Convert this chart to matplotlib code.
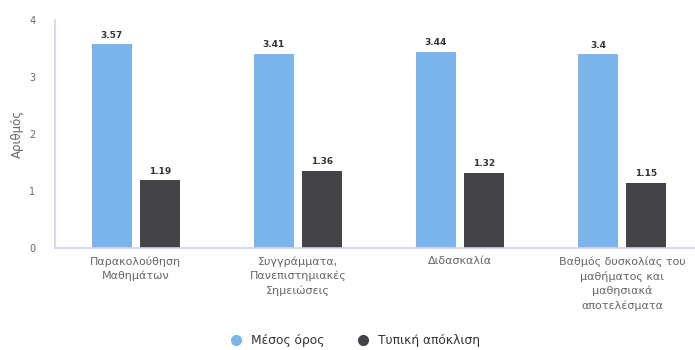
import numpy as np
import matplotlib
matplotlib.use("Agg")
import matplotlib.pyplot as plt
from matplotlib.lines import Line2D

# δεδομένα
categories = [
    "Παρακολούθηση\nΜαθημάτων",
    "Συγγράμματα,\nΠανεπιστημιακές\nΣημειώσεις",
    "Διδασκαλία",
    "Βαθμός δυσκολίας του\nμαθήματος και\nμαθησιακά\nαποτελέσματα",
]
mean_vals = [3.57, 3.41, 3.44, 3.4]
std_vals = [1.19, 1.36, 1.32, 1.15]
series_names = ["Μέσος όρος", "Τυπική απόκλιση"]
yticks = [0, 1, 2, 3, 4]

blue = "#7cb5ec"
dark = "#434348"
txt = "#666666"
axis_col = "#ccd6eb"

plt.rcParams['font.family'] = ['DejaVu Sans']

fig = plt.figure(figsize=(6.95, 3.5), dpi=100)
ax = fig.add_axes([0.079, 0.291, 0.921, 0.652])

x = np.arange(len(categories))
w = 0.247
off = 0.148
b1 = ax.bar(x - off, mean_vals, w, color=blue)
b2 = ax.bar(x + off, std_vals, w, color=dark)

for bars, vals in ((b1, mean_vals), (b2, std_vals)):
    for b, v in zip(bars, vals):
        ax.text(b.get_x() + b.get_width() / 2, v + 0.08, f"{v:g}",
                ha="center", va="bottom", fontsize=6.5, fontweight="bold", color="#333333")

ax.set_xlim(-0.5, 3.45)
ax.set_ylim(0, 4)
ax.set_yticks(yticks)
ax.set_yticklabels([str(t) for t in yticks], fontsize=7, color=txt)
ax.set_xticks(x)
ax.set_xticklabels(categories, fontsize=8, color=txt, linespacing=1.45)
ax.tick_params(axis="both", length=0)
ax.tick_params(axis="y", pad=14)
ax.tick_params(axis="x", pad=6)
ax.set_ylabel("Αριθμός", fontsize=8.5, color=txt, labelpad=4)

for s in ("top", "right"):
    ax.spines[s].set_visible(False)
ax.spines["left"].set_color(axis_col)
ax.spines["bottom"].set_color(axis_col)
ax.spines["left"].set_linewidth(1.2)
ax.spines["bottom"].set_linewidth(1.2)

handles = [Line2D([], [], marker="o", linestyle="none", markersize=7, color=blue),
           Line2D([], [], marker="o", linestyle="none", markersize=7, color=dark)]
fig.legend(handles, series_names, loc="center", bbox_to_anchor=(0.506, 0.027),
           ncol=2, frameon=False, fontsize=8.8, labelcolor="#333333",
           handletextpad=0.2, columnspacing=2.2)

fig.savefig("out.png", dpi=100)
